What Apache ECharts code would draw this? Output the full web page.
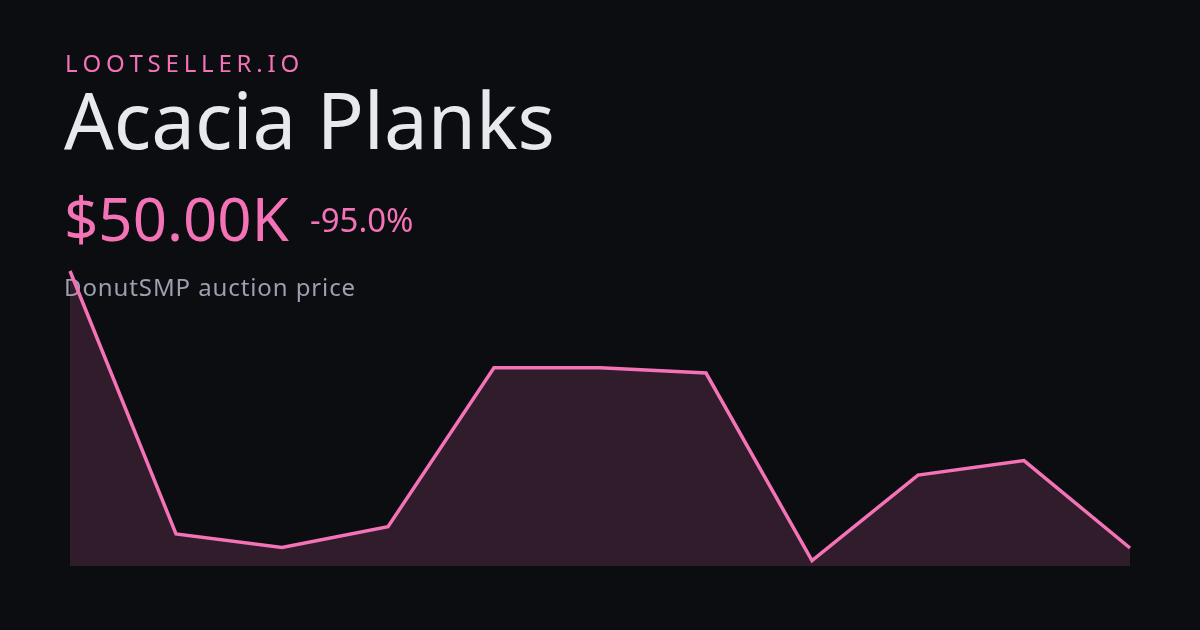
<!DOCTYPE html>
<html>
<head>
<meta charset="utf-8">
<script src="https://cdn.jsdelivr.net/npm/echarts@6/dist/echarts.min.js"></script>
<style>
html,body{margin:0;padding:0;background:#0c0d11;}
#chart{width:1200px;height:630px;}
</style>
</head>
<body>
<div id="chart"></div>
<script>
// Data
const categories = ['1','2','3','4','5','6','7','8','9','10','11'];
const prices = [1000000, 98000, 52000, 123000, 668000, 668000, 650000, 6500, 300000, 350000, 50000];
const brand = 'LOOTSELLER.IO';
const itemName = 'Acacia Planks';
const currentPrice = '$50.00K';
const changeText = '-95.0%';
const subtitle = 'DonutSMP auction price';

const PINK = '#f472b6';
const FONT = '"Noto Sans", "Open Sans", sans-serif';

// letter-spaced text, one text element per glyph
const mctx = document.createElement('canvas').getContext('2d');
function spaced(str, x0, y, font, fill, spacing) {
  mctx.font = font;
  const els = [];
  let x = x0;
  for (const ch of str) {
    if (ch !== ' ') {
      els.push({type:'text', z:0, style:{text:ch, x:x, y:y, font:font, fill:fill, verticalAlign:'middle'}});
    }
    x += mctx.measureText(ch).width + spacing;
  }
  return els;
}

const chart = echarts.init(document.getElementById('chart'));
chart.setOption({
  backgroundColor:'#0c0d11',
  animation:false,
  grid:{left:70, right:70, top:271, bottom:64},
  xAxis:{type:'category', data:categories, boundaryGap:false, show:false},
  yAxis:{type:'value', min:-11700, max:1000000, show:false, splitLine:{show:false}},
  graphic:[
    ...spaced(brand, 65, 65.5, '24px ' + FONT, PINK, 4.8),
    {type:'text', z:0, style:{text:itemName, x:64, y:127, font:'78px ' + FONT, fill:'#e8e9ee', verticalAlign:'middle'}},
    {type:'text', z:0, style:{text:currentPrice, x:64, y:224, font:'60px ' + FONT, fill:PINK, verticalAlign:'middle'}},
    {type:'text', z:0, style:{text:changeText, x:310, y:223, font:'33px ' + FONT, fill:PINK, verticalAlign:'middle'}},
    ...spaced(subtitle, 64, 289, '24px ' + FONT, '#9aa0ae', 0.9)
  ],
  series:[{
    type:'line',
    data:prices,
    symbol:'none',
    z:5,
    lineStyle:{color:PINK, width:3.5, join:'miter'},
    areaStyle:{color:'rgba(244,114,182,0.155)', opacity:1, origin:'start'}
  }]
});
</script>
</body>
</html>
